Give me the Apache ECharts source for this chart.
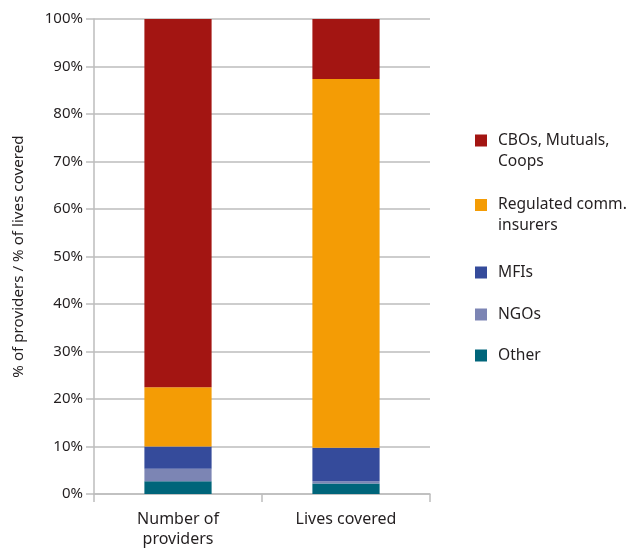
<!DOCTYPE html>
<html>
<head>
<meta charset="utf-8">
<script src="https://cdn.jsdelivr.net/npm/echarts@6/dist/echarts.min.js"></script>
<style>html,body{margin:0;padding:0;background:#fff}#c{width:630px;height:550px}</style>
</head>
<body>
<div id="c"></div>
<script>
var categories = ['Number of\nproviders', 'Lives covered'];
var other = [2.7, 2.2];
var ngos = [2.6, 0.5];
var mfis = [4.7, 7.05];
var regulated = [12.5, 77.6];
var cbos = [77.5, 12.65];
var yTicks = [0, 10, 20, 30, 40, 50, 60, 70, 80, 90, 100];

var FONT = 'Noto Sans';
var TXT = '#231F20';
var GRID = '#BDBDBD';

var seriesDefs = [
  {name: 'Other', data: other, color: '#00657A'},
  {name: 'NGOs', data: ngos, color: '#7C85B4'},
  {name: 'MFIs', data: mfis, color: '#354B9B'},
  {name: 'Regulated comm.\ninsurers', data: regulated, color: '#F49C05'},
  {name: 'CBOs, Mutuals,\nCoops', data: cbos, color: '#A31512'}
];

var legendTops = {
  'CBOs, Mutuals,\nCoops': {top: 134.5, two: true},
  'Regulated comm.\ninsurers': {top: 199, two: true},
  'MFIs': {top: 262, two: false},
  'NGOs': {top: 304, two: false},
  'Other': {top: 345, two: false}
};

var legends = Object.keys(legendTops).map(function (n) {
  var d = legendTops[n];
  return {
    data: [n],
    orient: 'vertical',
    left: 475,
    top: d.two ? d.top - 25.5 : d.top,
    padding: 0,
    itemWidth: 12,
    itemHeight: 12,
    icon: 'rect',
    selectedMode: false,
    formatter: function (name) { return legendTops[name].two ? '\n' + name : name; },
    textStyle: {
      fontFamily: FONT, fontSize: 15.6, color: TXT, lineHeight: 21,
      padding: [0, 0, 0, 6]
    }
  };
});

var chart = echarts.init(document.getElementById('c'), null, {renderer: 'canvas'});
chart.setOption({
  animation: false,
  backgroundColor: '#fff',
  grid: {left: 94, right: 200, top: 19, bottom: 56, containLabel: false},
  legend: legends,
  xAxis: {
    type: 'category',
    data: categories,
    axisLine: {show: true, lineStyle: {color: GRID, width: 1.5}},
    axisTick: {show: true, length: 8, alignWithLabel: false, lineStyle: {color: GRID, width: 1.5}},
    axisLabel: {fontFamily: FONT, fontSize: 16, color: TXT, lineHeight: 20, margin: 15}
  },
  yAxis: {
    type: 'value',
    min: yTicks[0],
    max: yTicks[yTicks.length - 1],
    interval: 10,
    name: '% of providers / % of lives covered',
    nameLocation: 'middle',
    nameGap: 68,
    nameTextStyle: {fontFamily: FONT, fontSize: 15.2, color: TXT},
    axisLine: {show: true, lineStyle: {color: GRID, width: 1.5}},
    axisTick: {show: true, length: 8, lineStyle: {color: GRID, width: 1.5}},
    splitLine: {show: true, lineStyle: {color: GRID, width: 1.5}},
    axisLabel: {fontFamily: FONT, fontSize: 15, color: TXT, margin: 11, formatter: '{value}%'}
  },
  series: seriesDefs.map(function (s) {
    return {
      name: s.name,
      type: 'bar',
      stack: 'total',
      data: s.data,
      barWidth: '40%',
      itemStyle: {color: s.color},
      emphasis: {disabled: true}
    };
  })
});
</script>
</body>
</html>
